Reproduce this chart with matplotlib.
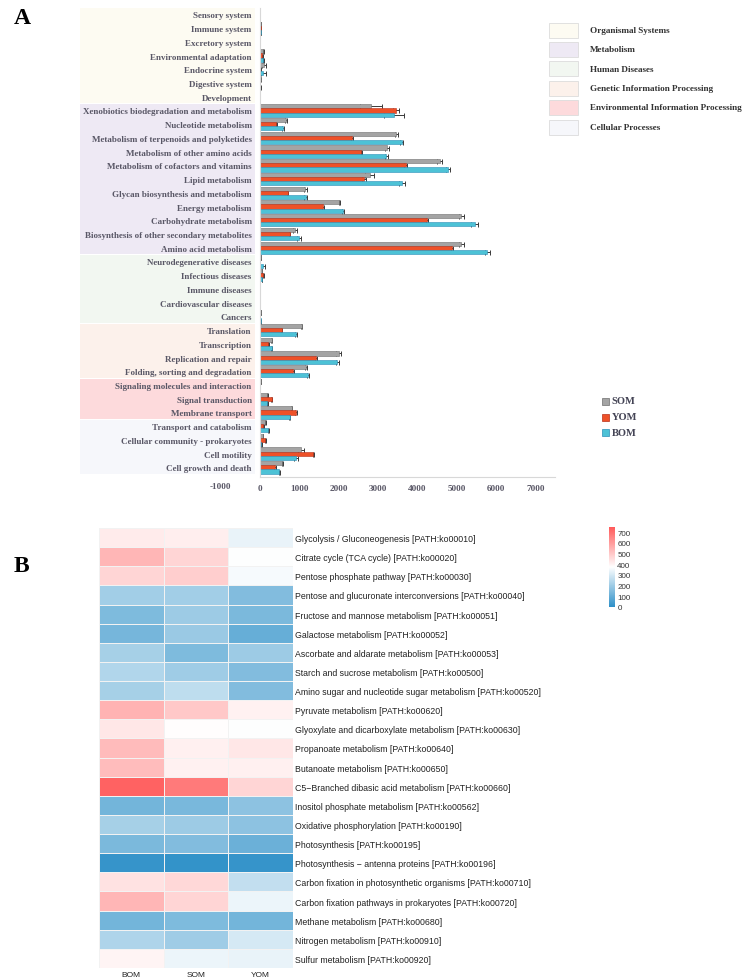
import matplotlib
matplotlib.use("Agg")
import matplotlib.pyplot as plt
import numpy as np
from matplotlib.patches import Rectangle
from matplotlib.colors import LinearSegmentedColormap
from matplotlib.transforms import blended_transform_factory

# ---------------- Panel A data ----------------
categories = [
    "Sensory system", "Immune system", "Excretory system", "Environmental adaptation",
    "Endocrine system", "Digestive system", "Development",
    "Xenobiotics biodegradation and metabolism", "Nucleotide metabolism",
    "Metabolism of terpenoids and polyketides", "Metabolism of other amino acids",
    "Metabolism of cofactors and vitamins", "Lipid metabolism",
    "Glycan biosynthesis and metabolism", "Energy metabolism", "Carbohydrate metabolism",
    "Biosynthesis of other secondary metabolites", "Amino acid metabolism",
    "Neurodegenerative diseases", "Infectious diseases", "Immune diseases",
    "Cardiovascular diseases", "Cancers",
    "Translation", "Transcription", "Replication and repair",
    "Folding, sorting and degradation",
    "Signaling molecules and interaction", "Signal transduction", "Membrane transport",
    "Transport and catabolism", "Cellular community - prokaryotes", "Cell motility",
    "Cell growth and death",
]
som = [0, 30, 5, 80, 100, 15, 5,
       2820, 655, 3470, 3230, 4565, 2790, 1150, 2020, 5120, 890, 5120,
       25, 50, 10, 10, 30,
       1060, 300, 2000, 1175,
       15, 190, 805,
       135, 70, 1040, 570]
yom = [0, 30, 0, 60, 10, 10, 0,
       3460, 410, 2340, 2580, 3700, 2640, 700, 1600, 4250, 750, 4880,
       10, 85, 10, 10, 0,
       550, 210, 1420, 835,
       0, 300, 920,
       85, 135, 1360, 380]
bom = [0, 30, 5, 80, 85, 10, 5,
       3400, 595, 3600, 3215, 4780, 3610, 1165, 2110, 5460, 980, 5780,
       70, 50, 10, 10, 30,
       910, 300, 1970, 1210,
       10, 190, 750,
       210, 35, 920, 495]
som_err = [0, 5, 0, 15, 60, 5, 0,
           280, 25, 50, 40, 60, 120, 40, 20, 70, 50, 70,
           5, 10, 0, 0, 5,
           20, 15, 60, 20,
           0, 15, 20,
           15, 5, 70, 15]
yom_err = [0, 5, 0, 10, 5, 0, 0,
           80, 15, 20, 20, 30, 50, 20, 20, 30, 20, 30,
           0, 15, 0, 0, 0,
           15, 10, 20, 20,
           0, 15, 20,
           10, 10, 20, 15]
bom_err = [0, 5, 0, 15, 60, 5, 0,
           250, 25, 30, 30, 50, 80, 40, 25, 90, 50, 60,
           60, 10, 0, 0, 5,
           20, 15, 30, 25,
           0, 15, 20,
           15, 5, 50, 15]
groups = ["Organismal Systems", "Metabolism", "Human Diseases",
          "Genetic Information Processing", "Environmental Information Processing",
          "Cellular Processes"]
group_sizes = [7, 11, 5, 4, 3, 4]
group_colors = ["#FDFBF2", "#EEE9F4", "#F2F7F1", "#FCF1EB", "#FDDADC", "#F6F7FB"]
series_names = ["SOM", "YOM", "BOM"]
series_colors = ["#A4A4A4", "#EE5128", "#4DC2D6"]
xticks_a = [0, 1000, 2000, 3000, 4000, 5000, 6000, 7000]

# ---------------- Panel B data ----------------
pathways = [
    "Glycolysis / Gluconeogenesis [PATH:ko00010]",
    "Citrate cycle (TCA cycle) [PATH:ko00020]",
    "Pentose phosphate pathway [PATH:ko00030]",
    "Pentose and glucuronate interconversions [PATH:ko00040]",
    "Fructose and mannose metabolism [PATH:ko00051]",
    "Galactose metabolism [PATH:ko00052]",
    "Ascorbate and aldarate metabolism [PATH:ko00053]",
    "Starch and sucrose metabolism [PATH:ko00500]",
    "Amino sugar and nucleotide sugar metabolism [PATH:ko00520]",
    "Pyruvate metabolism [PATH:ko00620]",
    "Glyoxylate and dicarboxylate metabolism [PATH:ko00630]",
    "Propanoate metabolism [PATH:ko00640]",
    "Butanoate metabolism [PATH:ko00650]",
    "C5\u2212Branched dibasic acid metabolism [PATH:ko00660]",
    "Inositol phosphate metabolism [PATH:ko00562]",
    "Oxidative phosphorylation [PATH:ko00190]",
    "Photosynthesis [PATH:ko00195]",
    "Photosynthesis \u2212 antenna proteins [PATH:ko00196]",
    "Carbon fixation in photosynthetic organisms [PATH:ko00710]",
    "Carbon fixation pathways in prokaryotes [PATH:ko00720]",
    "Methane metabolism [PATH:ko00680]",
    "Nitrogen metabolism [PATH:ko00910]",
    "Sulfur metabolism [PATH:ko00920]",
]
hm_columns = ["BOM", "SOM", "YOM"]
hm_bom = [420, 540, 470, 210, 145, 130, 215, 235, 215, 545, 430, 530, 525, 730, 125, 215, 140, 15, 440, 540, 125, 230, 400]
hm_som = [415, 470, 485, 210, 200, 195, 145, 205, 260, 500, 378, 410, 405, 675, 135, 200, 150, 10, 465, 470, 145, 205, 340]
hm_yom = [335, 372, 358, 150, 140, 100, 200, 150, 150, 405, 372, 430, 410, 470, 170, 170, 110, 15, 265, 340, 125, 300, 335]
cbar_ticks = [0, 100, 200, 300, 400, 500, 600, 700]

# ---------------- Figure ----------------
W, H = 744, 979
fig = plt.figure(figsize=(W / 100, H / 100), dpi=100)

def fx(px):
    return px / W

def fy(py):
    return 1 - py / H

serif = "Liberation Serif"
lab_col = "#595766"

# Panel A axes
ax = fig.add_axes([fx(260), fy(478), fx(555) - fx(260), fy(8.5) - fy(478)])
n = len(categories)
y = np.arange(n)
bh = 0.30
offs = [-0.30, 0.0, 0.30]
vals = [som, yom, bom]
errs = [som_err, yom_err, bom_err]
edge = ["#6E6E6E", "#B8301A", "#2C8FB8"]
for i in range(3):
    ax.errorbar(vals[i], y + offs[i], xerr=errs[i], fmt="none", ecolor="#3A3A3A",
                elinewidth=0.7, capsize=1.8, capthick=0.7, zorder=1)
    ax.barh(y + offs[i], vals[i], height=bh, color=series_colors[i],
            edgecolor=edge[i], linewidth=0.4, zorder=2)
ax.set_ylim(n - 0.5 + 0.2, -0.5)
ax.set_xlim(0, 7500)
ax.set_yticks(y)
ax.set_yticklabels(categories, fontfamily=serif, fontweight="bold", fontsize=6.5, color=lab_col)
ax.tick_params(axis="y", length=0, pad=6)
ax.set_xticks(xticks_a)
ax.set_xticklabels([str(v) for v in xticks_a], fontfamily=serif, fontweight="bold",
                   fontsize=6.6, color=lab_col)
ax.tick_params(axis="x", length=0, pad=5)
ax.text(-1000, -0.0105, "-1000", transform=blended_transform_factory(ax.transData, ax.transAxes),
        ha="center", va="top", fontfamily=serif, fontweight="bold", fontsize=6.6,
        color=lab_col, clip_on=False)
for s in ["top", "right"]:
    ax.spines[s].set_visible(False)
ax.spines["left"].set_color("#D8D8D8")
ax.spines["bottom"].set_color("#D8D8D8")
ax.spines["left"].set_linewidth(0.8)
ax.spines["bottom"].set_linewidth(0.8)

# group background bands
tr = blended_transform_factory(fig.transFigure, ax.transData)
start = 0
for gs, gc in zip(group_sizes, group_colors):
    y0 = start - 0.5 + 0.04
    y1 = start + gs - 0.5 - 0.04
    ax.add_patch(Rectangle((fx(80), y0), fx(255) - fx(80), y1 - y0, transform=tr,
                           facecolor=gc, edgecolor="none", clip_on=False, zorder=0))
    start += gs

# group legend
leg_y = [31, 50, 69.5, 89, 108.5, 128]
for g, gc, ly in zip(groups, group_colors, leg_y):
    fig.patches.append(Rectangle((fx(549), fy(ly + 7.5)), fx(578) - fx(549), fy(ly - 7.5) - fy(ly + 7.5),
                                 transform=fig.transFigure, facecolor=gc, edgecolor="#DCDCDC",
                                 linewidth=0.6))
    fig.text(fx(590), fy(ly), g, fontfamily=serif, fontweight="bold", fontsize=6.6,
             color="#333333", ha="left", va="center")

# series legend
ser_y = [402, 418, 433.5]
for nm, c, e, ly in zip(series_names, series_colors, edge, ser_y):
    fig.patches.append(Rectangle((fx(602), fy(ly + 3.5)), fx(609) - fx(602), fy(ly - 3.5) - fy(ly + 3.5),
                                 transform=fig.transFigure, facecolor=c, edgecolor=e, linewidth=0.5))
    fig.text(fx(611.5), fy(ly), nm, fontfamily=serif, fontweight="bold", fontsize=7.6,
             color="#444455", ha="left", va="center")

fig.text(fx(14), fy(19), "A", fontfamily=serif, fontweight="bold", fontsize=17, color="black",
         ha="left", va="center")
fig.text(fx(14), fy(566), "B", fontfamily=serif, fontweight="bold", fontsize=17, color="black",
         ha="left", va="center")

# Panel B heatmap
ax2 = fig.add_axes([fx(99), fy(969), fx(292.5) - fx(99), fy(529) - fy(969)])
data = np.column_stack([hm_bom, hm_som, hm_yom])
cmap = LinearSegmentedColormap.from_list("bwr_p", ["#2E90C8", "#FFFFFF", "#FF5A5A"])
mesh = ax2.pcolormesh(data, cmap=cmap, vmin=0, vmax=750, edgecolors="#F2F2F2", linewidth=0.6)
ax2.set_xlim(0, 3)
ax2.set_ylim(len(pathways), 0)
for s in ax2.spines.values():
    s.set_visible(False)
ax2.yaxis.tick_right()
ax2.set_yticks(np.arange(len(pathways)) + 0.5)
ax2.set_yticklabels(pathways, fontfamily="Liberation Sans", fontsize=6.3, color="#222222")
ax2.tick_params(axis="y", length=0, pad=2)
ax2.set_xticks(np.arange(3) + 0.5)
ax2.set_xticklabels(hm_columns, fontfamily="Liberation Sans", fontsize=6.0, color="#222222")
ax2.tick_params(axis="x", length=0, pad=2)

cax = fig.add_axes([fx(609), fy(608), fx(614.5) - fx(609), fy(528) - fy(608)])
cb = fig.colorbar(mesh, cax=cax, ticks=cbar_ticks)
cb.outline.set_visible(False)
cb.ax.tick_params(length=0, pad=2, labelsize=5.8, labelcolor="#333333")
for t in cb.ax.get_yticklabels():
    t.set_fontfamily("Liberation Sans")

fig.savefig("out.png", dpi=100, facecolor="white")
